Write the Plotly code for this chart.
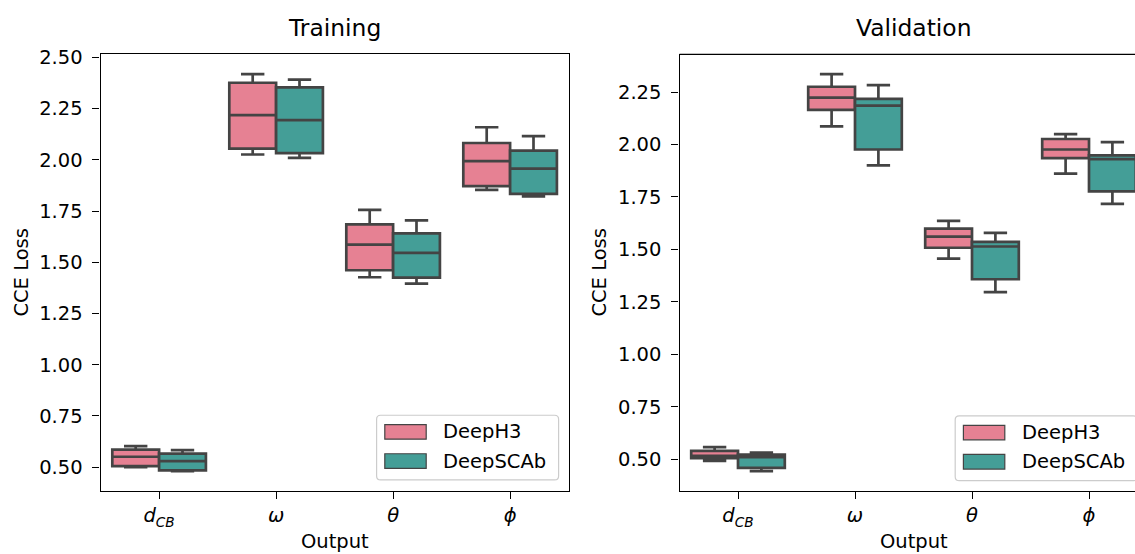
import plotly.graph_objects as go

# ---------------- data ----------------
categories = ["dCB", "omega", "theta", "phi"]
tick_text = ["<i>d</i><sub><i>CB</i></sub>", "<i>ω</i>", "<i>θ</i>", "<i>ϕ</i>"]
models = ["DeepH3", "DeepSCAb"]
colors = {"DeepH3": "#e68193", "DeepSCAb": "#449e97"}
line_gray = "#444444"

# Training
train_deeph3_lo  = [0.500, 2.026, 1.427, 1.853]
train_deeph3_q1  = [0.505, 2.055, 1.461, 1.872]
train_deeph3_med = [0.551, 2.218, 1.586, 1.994]
train_deeph3_q3  = [0.586, 2.376, 1.685, 2.082]
train_deeph3_hi  = [0.603, 2.418, 1.756, 2.159]

train_deepscab_lo  = [0.481, 2.009, 1.396, 1.822]
train_deepscab_q1  = [0.484, 2.033, 1.425, 1.834]
train_deepscab_med = [0.530, 2.194, 1.546, 1.957]
train_deepscab_q3  = [0.566, 2.354, 1.641, 2.045]
train_deepscab_hi  = [0.583, 2.391, 1.704, 2.116]

# Validation
val_deeph3_lo  = [0.493, 2.086, 1.456, 1.861]
val_deeph3_q1  = [0.505, 2.165, 1.508, 1.935]
val_deeph3_med = [0.517, 2.223, 1.561, 1.976]
val_deeph3_q3  = [0.540, 2.275, 1.599, 2.026]
val_deeph3_hi  = [0.558, 2.335, 1.636, 2.049]

val_deepscab_lo  = [0.444, 1.900, 1.297, 1.717]
val_deepscab_q1  = [0.459, 1.976, 1.358, 1.777]
val_deepscab_med = [0.510, 2.185, 1.514, 1.930]
val_deepscab_q3  = [0.523, 2.217, 1.536, 1.948]
val_deepscab_hi  = [0.532, 2.283, 1.579, 2.011]

panels = [
    ("Training", "x", "y", {
        "DeepH3": (train_deeph3_lo, train_deeph3_q1, train_deeph3_med, train_deeph3_q3, train_deeph3_hi),
        "DeepSCAb": (train_deepscab_lo, train_deepscab_q1, train_deepscab_med, train_deepscab_q3, train_deepscab_hi),
    }),
    ("Validation", "x2", "y2", {
        "DeepH3": (val_deeph3_lo, val_deeph3_q1, val_deeph3_med, val_deeph3_q3, val_deeph3_hi),
        "DeepSCAb": (val_deepscab_lo, val_deepscab_q1, val_deepscab_med, val_deepscab_q3, val_deepscab_hi),
    }),
]

# ---------------- layout geometry (pixels) ----------------
W, H = 1135, 554
FONT = "DejaVu Sans"
TICK_SIZE = 19.5
TITLE_SIZE = 23.4


def px(x):
    return x / W


def py(y):
    return 1 - y / H


ax_top, ax_bot = 47, 490
ax1_l, ax1_r = 100.6, 568.6
ax2_l = 679.5
ax2_full_r = ax2_l + (ax1_r - ax1_l)   # matplotlib axes right edge (beyond the canvas)

fig = go.Figure()

for title, xa, ya, series in panels:
    for m in models:
        lo, q1, med, q3, hi = series[m]
        fig.add_trace(go.Box(
            x=categories, lowerfence=lo, q1=q1, median=med, q3=q3, upperfence=hi,
            name=m, offsetgroup=m, xaxis=xa, yaxis=ya,
            fillcolor=colors[m], line=dict(color=line_gray, width=2.7),
            whiskerwidth=0.5, boxpoints=False, showlegend=False, hoverinfo="skip",
        ))


def yrange(series):
    vals_lo = [v for m in models for v in series[m][0]]
    vals_hi = [v for m in models for v in series[m][4]]
    lo, hi = min(vals_lo), max(vals_hi)
    span = hi - lo
    return [lo - 0.05 * span, hi + 0.05 * span]


yr1 = yrange(panels[0][3])
yr2 = yrange(panels[1][3])

# visible part of the right x axis (axes clipped by canvas edge)
cat_px = (ax1_r - ax1_l) / 4.0
x2_right = -0.5 + (W - ax2_l) / cat_px

axis_common = dict(
    showline=True, linecolor="#000000", linewidth=1.3,
    ticks="outside", ticklen=7, tickwidth=1.3, tickcolor="#000000",
    showgrid=False, zeroline=False,
    tickfont=dict(family=FONT, size=TICK_SIZE, color="#000000"),
)

fig.update_layout(
    width=W, height=H,
    margin=dict(l=0, r=0, t=0, b=0),
    paper_bgcolor="white", plot_bgcolor="white",
    boxmode="group", boxgap=0.2, boxgroupgap=0.0,
    showlegend=False,
    xaxis=dict(domain=[px(ax1_l), px(ax1_r)], anchor="y", type="category",
               categoryorder="array", categoryarray=categories,
               tickvals=categories, ticktext=tick_text, range=[-0.5, 3.5],
               mirror=True, ticklabelstandoff=0, **axis_common),
    yaxis=dict(domain=[py(ax_bot), py(ax_top)], anchor="x", range=yr1,
               tick0=0.5, dtick=0.25, tickformat=".2f", mirror=True,
               ticklabelstandoff=6, **axis_common),
    xaxis2=dict(domain=[px(ax2_l), 1.0], anchor="y2", type="category",
                categoryorder="array", categoryarray=categories,
                tickvals=categories, ticktext=tick_text, range=[-0.5, x2_right],
                ticklabelstandoff=0, **axis_common),
    yaxis2=dict(domain=[py(ax_bot), py(ax_top)], anchor="x2", range=yr2,
                tick0=0.5, dtick=0.25, tickformat=".2f",
                ticklabelstandoff=6, **axis_common),
)

# top spine of right axes (right spine is off-canvas)
fig.add_shape(type="line", xref="x2 domain", yref="y2 domain", x0=0, x1=1, y0=1, y1=1,
              line=dict(color="#000000", width=1.3), layer="above")

# titles and axis labels
for title, cx, ycx in [("Training", (ax1_l + ax1_r) / 2, 22), ("Validation", (ax2_l + ax2_full_r) / 2, 600)]:
    fig.add_annotation(text=title, x=px(cx), y=py(20), xref="paper", yref="paper",
                       showarrow=False, xanchor="center", yanchor="middle",
                       font=dict(family=FONT, size=TITLE_SIZE, color="#000000"))
    fig.add_annotation(text="Output", x=px(cx), y=py(541), xref="paper", yref="paper",
                       showarrow=False, xanchor="center", yanchor="middle",
                       font=dict(family=FONT, size=TICK_SIZE, color="#000000"))
    fig.add_annotation(text="CCE Loss", x=px(ycx), y=py((ax_top + ax_bot) / 2),
                       xref="paper", yref="paper", textangle=-90,
                       showarrow=False, xanchor="center", yanchor="middle",
                       font=dict(family=FONT, size=TICK_SIZE, color="#000000"))


# manual matplotlib-style legends
def rounded_rect(x0, y0, x1, y1, r):
    # pixel coordinates -> paper path
    pts = []
    pts.append(f"M {px(x0 + r)} {py(y0)}")
    pts.append(f"L {px(x1 - r)} {py(y0)}")
    pts.append(f"Q {px(x1)} {py(y0)} {px(x1)} {py(y0 + r)}")
    pts.append(f"L {px(x1)} {py(y1 - r)}")
    pts.append(f"Q {px(x1)} {py(y1)} {px(x1 - r)} {py(y1)}")
    pts.append(f"L {px(x0 + r)} {py(y1)}")
    pts.append(f"Q {px(x0)} {py(y1)} {px(x0)} {py(y1 - r)}")
    pts.append(f"L {px(x0)} {py(y0 + r)}")
    pts.append(f"Q {px(x0)} {py(y0)} {px(x0 + r)} {py(y0)}")
    pts.append("Z")
    return " ".join(pts)


def add_legend(left, top):
    fw, fh = 182, 65.6
    fig.add_shape(type="path", xref="paper", yref="paper",
                  path=rounded_rect(left, top, left + fw, top + fh, 4),
                  fillcolor="rgba(255,255,255,0.8)", line=dict(color="#cccccc", width=1.2),
                  layer="above")
    for i, m in enumerate(models):
        y0 = top + 9.5 + i * 29.6
        fig.add_shape(type="rect", xref="paper", yref="paper",
                      x0=px(left + 8.2), x1=px(left + 49.6), y0=py(y0), y1=py(y0 + 14.8),
                      fillcolor=colors[m], line=dict(color=line_gray, width=1.2), layer="above")
        fig.add_annotation(text=m, x=px(left + 64.5), y=py(y0 + 7.4), xref="paper", yref="paper",
                           showarrow=False, xanchor="left", yanchor="middle",
                           font=dict(family=FONT, size=TICK_SIZE, color="#000000"))


add_legend(376.6, 413.2)
add_legend(955.2, 413.9)

fig.write_html("out.html")
